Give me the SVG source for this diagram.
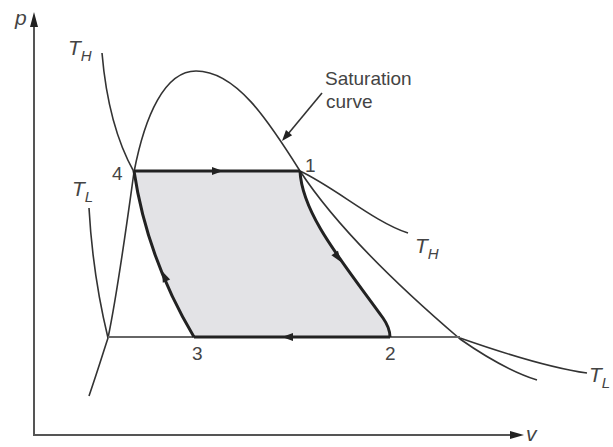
<svg xmlns="http://www.w3.org/2000/svg" xmlns:xlink="http://www.w3.org/1999/xlink" width="613" height="447" viewBox="0 0 613 447">
<style>
.axis{fill:none;stroke:#555;stroke-width:2}
.thin{fill:none;stroke:#333;stroke-width:1.6}
.iso{fill:none;stroke:#666;stroke-width:2}
.cyc{fill:none;stroke:#222;stroke-width:3;stroke-linejoin:round}
.shade{fill:#e3e3e6;stroke:none}
.lbl{font-family:"Liberation Sans",Arial,sans-serif;fill:#444;font-size:19px}
.it{font-family:"Liberation Sans",Arial,sans-serif;fill:#444;font-style:italic;font-size:21px}
.sub{font-size:15px}
.head{fill:#222}
</style>
<defs>
<path id="ah" d="M0,0 L-11,-4 L-11,4 Z"/>
</defs>
<rect width="613" height="447" fill="#fff"/>
<g id="axes">
<path class="axis" d="M34,436 L34,24 M34,435 L514,435"/>
<polygon class="head" points="34,12 30,27 38,27" fill="#222"/>
<polygon class="head" points="524,435 510,431 510,439" fill="#222"/>
<text class="it" x="15" y="25">p</text>
<text class="it" x="526" y="441">v</text>
</g>
<g id="region">
<path class="shade" d="M134,171 L300,171 C302,215 345,265 383,318 Q390,328 390,337 L194,337 C172,300 145,245 134,171 Z"/>
</g>
<g id="connectors">
<path id="saturation" class="thin" d="M89,396 C98,370 104,350 108,338 C118,290 128,215 134,172 C145,115 165,71 196,71 C236,71 268,120 300,171 C340,232 405,292 460,339 C490,360 512,372 537,380"/>
<path id="TH-left" class="thin" d="M102,53 C106,100 116,140 134,172"/>
<path id="TH-right" class="thin" d="M300,171 C336,188 374,222 408,233"/>
<path id="TL-left" class="thin" d="M89,208 C92,262 100,305 108,338"/>
<path id="TL-flat" class="iso" d="M108,337 L460,337"/>
<path id="TL-right" class="thin" d="M460,338 C500,352 550,368 587,373"/>
<path id="leader" class="thin" d="M322,93 L288,134"/>
<use href="#ah" class="head" transform="translate(282,141) rotate(130)"/>
</g>
<g id="cycle">
<path id="p41" class="cyc" d="M134,171 L300,171"/>
<path id="p12" class="cyc" d="M300,171 C302,215 345,265 383,318 Q390,328 390,337"/>
<path id="p23" class="cyc" d="M390,337 L194,337"/>
<path id="p34" class="cyc" d="M194,337 C172,300 145,245 134,171"/>
<use href="#ah" class="head" transform="translate(223,171)"/>
<use href="#ah" class="head" transform="translate(341,262) rotate(55)"/>
<use href="#ah" class="head" transform="translate(282,337) rotate(180)"/>
<use href="#ah" class="head" transform="translate(162,271) rotate(-114)"/>
</g>
<g id="labels">
<text class="lbl" x="325" y="85">Saturation</text>
<text class="lbl" x="326" y="108">curve</text>
<text class="lbl" x="112" y="180">4</text>
<text class="lbl" x="305" y="172">1</text>
<text class="lbl" x="385" y="360">2</text>
<text class="lbl" x="192" y="360">3</text>
<text class="it" x="68" y="55">T<tspan class="sub" dy="6">H</tspan></text>
<text class="it" x="415" y="253">T<tspan class="sub" dy="6">H</tspan></text>
<text class="it" x="72" y="196">T<tspan class="sub" dy="6">L</tspan></text>
<text class="it" x="589" y="382">T<tspan class="sub" dy="6">L</tspan></text>
</g>
</svg>
